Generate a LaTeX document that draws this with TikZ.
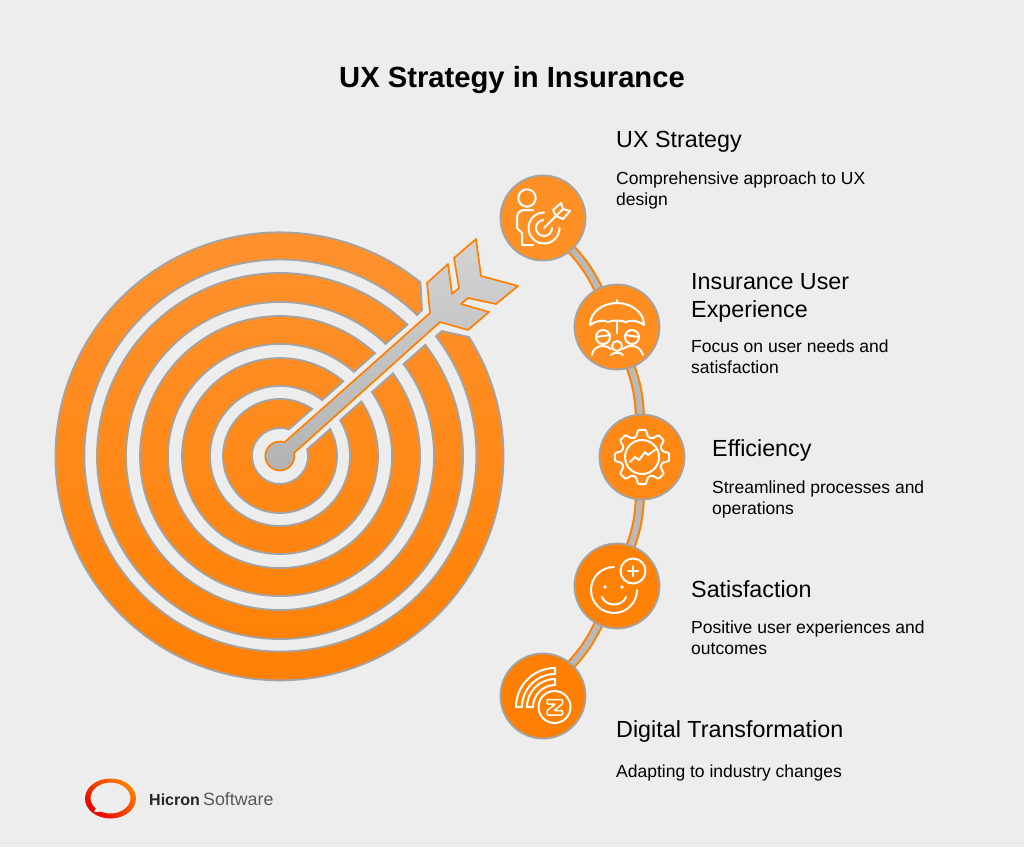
\documentclass[tikz,border=0pt]{standalone}
\usepackage{fontspec}
\setmainfont{Liberation Sans}
\definecolor{bgcol}{HTML}{EDEDED}
\definecolor{edgecol}{HTML}{A3A3A3}
\definecolor{bandcol}{HTML}{B9B9B9}
\definecolor{orgcol}{HTML}{FF7F00}
\definecolor{orgtop}{HTML}{FF9230}
\definecolor{orgmid}{HTML}{FF8408}
\definecolor{stepa}{HTML}{FF9026}
\definecolor{stepb}{HTML}{FF8D20}
\definecolor{stepc}{HTML}{FF8914}
\definecolor{stepd}{HTML}{FF8206}
\definecolor{stepe}{HTML}{FF7F02}
\pgfdeclarelayer{paper}
\pgfdeclarelayer{bands}
\pgfsetlayers{paper,bands,main}
\tikzset{
  stepnode/.style={circle, draw=edgecol, line width=1.8pt, fill=#1, minimum size=85pt, inner sep=0pt},
  band/.style={draw=orgcol, line width=2pt, double=bandcol, double distance=6pt, shorten <=-3pt, shorten >=-3pt},
  iconline/.style={draw=white, line width=2pt, line cap=round, line join=round},
  headtext/.style={anchor=base west, inner sep=0pt, align=left, font=\fontsize{23.3}{28}\selectfont},
  desctext/.style={anchor=base west, inner sep=0pt, align=left, font=\fontsize{17.5}{21}\selectfont}
}
\begin{document}
\begin{tikzpicture}[x=1pt, y=-1pt]
        \begin{pgfonlayer}{paper}
        \fill[bgcol] (0, 0) rectangle (1024, 847);
        \end{pgfonlayer}
        \useasboundingbox (0, 0) rectangle (1024, 847);

        \node[anchor=base, inner sep=0pt, font=\fontsize{29.2}{32}\selectfont\bfseries] at (512, 87)(title){UX Strategy in Insurance};

        % target
        \begin{scope}[shift={(280, 456)}]
        \shade[draw=edgecol, line width=1.8pt, top color=orgtop, middle color=orgmid, bottom color=orgcol]
        (189, -119) arc[start angle=-32.2, end angle=309, radius=224] -- (142, -146) -- (137, -141)
        arc[start angle=314.2, end angle=-37.5, radius=196] -- (162, -125) -- cycle
        \foreach \ro/\ri in {183/154, 140/112, 98/70, 57/28}{
          ({-41.5+asin(13/\ro)}:\ro) arc[start angle={-41.5+asin(13/\ro)}, end angle={318.5-asin(14/\ro)}, radius=\ro]
          -- ({318.5-asin(14/\ri)}:\ri) arc[start angle={318.5-asin(14/\ri)}, end angle={-41.5+asin(13/\ri)}, radius=\ri] -- cycle
        };
        \end{scope}

        % arrow
        \shade[draw=orgcol, line width=1.7pt, line join=round, top color=black!17, bottom color=black!30]
        (294, 453) arc[start angle=-12, end angle=289, radius=14.5]
        -- (430, 313) -- (427, 283) -- (448, 264) -- (452, 294) -- (459, 288) -- (454, 258) -- (476, 239)
        -- (481, 276) -- (518, 286) -- (496, 304) -- (468, 298) -- (461, 304) -- (489, 312) -- (468, 330)
        -- (440, 322) -- cycle;

        \node[stepnode=stepa] at (543, 218)(s1){};
        \node[stepnode=stepb] at (617, 327)(s2){};
        \node[stepnode=stepc] at (642, 457)(s3){};
        \node[stepnode=stepd] at (617, 586)(s4){};
        \node[stepnode=stepe] at (543, 696)(s5){};

        \begin{pgfonlayer}{bands}
        \path[every edge/.style={band}]
        (s1) edge [bend left=8] (s2)
        (s2) edge [bend left=8] (s3)
        (s3) edge [bend left=8] (s4)
        (s4) edge [bend left=8] (s5)
        ;
        \end{pgfonlayer}

        % icons
        \begin{scope}[shift={(543, 218)}, iconline]
        \draw (-16, -20) circle (8.7);
        \draw (-10, -8) -- (-19, -8) .. controls (-24, -8) and (-26, -4) .. (-26, 1) -- (-26, 10) -- (-21, 15) -- (-21, 27) -- (-10, 27);
        \draw (16.5, 10) arc[start angle=0, end angle=270, radius=15.5];
        \draw (9, 10) arc[start angle=0, end angle=265, radius=8];
        \draw (1, 10) -- (20, -9);
        \draw (13, -2) -- (10, -8) -- (18, -15) -- (20, -9) -- (27, -7) -- (20, 1) -- cycle;
        \end{scope}

        \begin{scope}[shift={(617, 327)}, iconline]
        \draw (-27, -2) .. controls (-27, -15) and (-14, -24) .. (0, -24) .. controls (14, -24) and (27, -15) .. (27, -2)
        .. controls (20, -7) and (13, -7) .. (9, -5) .. controls (4, -7) and (-4, -7) .. (-9, -5) .. controls (-13, -7) and (-20, -7) .. (-27, -2);
        \draw (0, -24) -- (0, -27) (0, -6) -- (0, 6);
        \draw (-14, 10) circle (7) (15, 10) circle (7) (0, 19) circle (5);
        \draw (-21, 10) -- (-7, 8) (8, 8) -- (22, 10);
        \draw (-25, 28) .. controls (-24, 22) and (-20, 19) .. (-14, 19) .. controls (-11, 19) and (-8, 20) .. (-6, 22);
        \draw (6, 22) .. controls (8, 20) and (11, 19) .. (15, 19) .. controls (20, 19) and (24, 22) .. (26, 28);
        \draw (-6, 28) .. controls (-4, 25) and (4, 25) .. (6, 28);
        \end{scope}

        \begin{scope}[shift={(642, 457)}, iconline]
        \draw[rounded corners=1pt] (-16.5:21)
        \foreach \a in {0, 45, ..., 315}{ -- ({\a-16.5}:21) -- ({\a-8}:27.5) -- ({\a+8}:27.5) -- ({\a+16.5}:21) } -- cycle;
        \draw (0, 0) circle (17);
        \draw (-12, 5) -- (-7, 0) -- (-3, 3) -- (3, -5) -- (6, -2) -- (13, -7);
        \end{scope}

        \begin{scope}[shift={(617, 586)}, iconline]
        \draw (-3, -19) arc[start angle=270, end angle=0, radius=23];
        \draw (-15, 11) .. controls (-11, 21) and (5, 21) .. (9, 11);
        \fill[white] (-12, 1) circle (1.8) (5, 1) circle (1.8);
        \draw (16, -15) circle (12.5);
        \draw (16, -20) -- (16, -10) (11, -15) -- (21, -15);
        \end{scope}

        \begin{scope}[shift={(543, 696)}, iconline]
        \draw (-27, 11) arc[start angle=180, end angle=270, radius=39] -- (12, -22)
        arc[start angle=270, end angle=180, radius=33] -- cycle;
        \draw (-16, 11) arc[start angle=180, end angle=270, radius=28] -- (12, -11)
        arc[start angle=270, end angle=180, radius=22] -- cycle;
        \draw (11.5, 11) circle (16);
        \draw[line width=1.5pt, rounded corners=1pt] (4, 3.5) -- (19.5, 3.5) -- (19.5, 8) -- (11, 14.5) -- (19.5, 14.5) -- (19.5, 19) -- (4, 19) -- (4, 14.5) -- (12.5, 8) -- (4, 8) -- cycle;
        \end{scope}

        % texts
        \node[headtext] at (616, 147)(h1){UX Strategy};
        \node[desctext] at (616, 205)(d1){Comprehensive approach to UX\\design};
        \node[headtext] at (691, 317)(h2){Insurance User\\Experience};
        \node[desctext] at (691, 373)(d2){Focus on user needs and\\satisfaction};
        \node[headtext] at (712, 456)(h3){Efficiency};
        \node[desctext] at (712, 514)(d3){Streamlined processes and\\operations};
        \node[headtext] at (691, 597)(h4){Satisfaction};
        \node[desctext] at (691, 654)(d4){Positive user experiences and\\outcomes};
        \node[headtext] at (616, 737)(h5){Digital Transformation};
        \node[desctext] at (616, 777)(d5){Adapting to industry changes};

        % logo
        \shade[even odd rule, left color=red!90!black, right color=orange, shading angle=135]
        (110.5, 798.5) ellipse[x radius=25.5, y radius=20] (110.5, 798) ellipse[x radius=20, y radius=15.5];
        \fill[bgcol] (97, 806) -- (104, 811.5) -- (94, 812) -- cycle;
        \node[anchor=base west, inner sep=0pt, font=\fontsize{16}{20}\selectfont\bfseries, text=black!85] at (149, 805)(lg1){Hicron};
        \node[anchor=base west, inner sep=0pt, font=\fontsize{17.8}{20}\selectfont, text=black!65] at (203, 805)(lg2){Software};
    \end{tikzpicture}
\end{document}
